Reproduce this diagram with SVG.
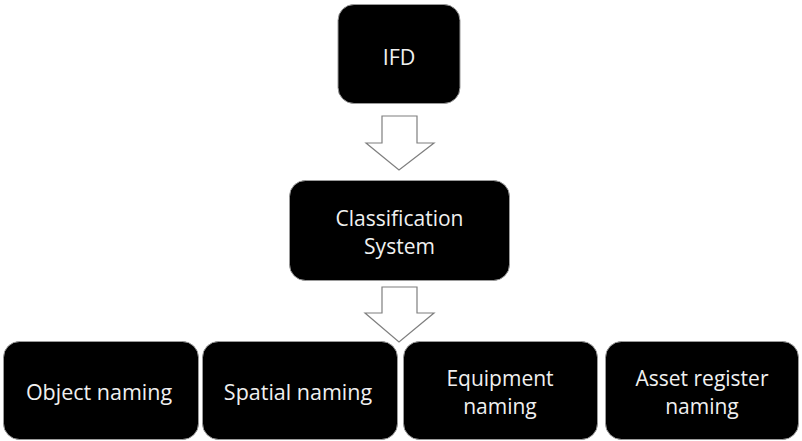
<svg xmlns="http://www.w3.org/2000/svg" width="802" height="441" viewBox="0 0 802 441">
<style>
.box{fill:#000;stroke:#9a9a9a;stroke-width:1}
.lbl{fill:#f0f0f0;font-family:"Open Sans","Liberation Sans",sans-serif;font-size:21.5px;text-anchor:middle}
.two{font-size:21px}
.arr{fill:#fff;stroke:#7f7f7f;stroke-width:1.2;stroke-linejoin:miter}
</style>
<rect width="802" height="441" fill="#fff"/>
<g id="ifd">
<rect class="box" x="338" y="4.5" width="122" height="99" rx="16"/>
<text class="lbl" x="399" y="65">IFD</text>
</g>
<g id="classification">
<rect class="box" x="289.5" y="180.5" width="220" height="100" rx="16"/>
<text class="lbl two" x="399.5" y="225.5">Classification</text>
<text class="lbl two" x="399.5" y="254.2">System</text>
</g>
<g id="object-naming">
<rect class="box" x="3.5" y="341.5" width="195" height="98" rx="16"/>
<text class="lbl" x="99" y="400">Object naming</text>
</g>
<g id="spatial-naming">
<rect class="box" x="202.5" y="341.5" width="195" height="98" rx="16"/>
<text class="lbl" x="298" y="400">Spatial naming</text>
</g>
<g id="equipment-naming">
<rect class="box" x="403.5" y="341.5" width="194" height="98" rx="16"/>
<text class="lbl two" x="500" y="385.5">Equipment</text>
<text class="lbl two" x="500" y="414.2">naming</text>
</g>
<g id="asset-register-naming">
<rect class="box" x="605.5" y="341.5" width="193" height="98" rx="16"/>
<text class="lbl two" x="702" y="385.5">Asset register</text>
<text class="lbl two" x="702" y="414.2">naming</text>
</g>
<g id="connectors">
<polygon class="arr" points="382,116 417,116 417,143 434,143 399,170 366,143 382,143"/>
<polygon class="arr" points="382,287 417,287 417,313 434,313 399,342 365,313 382,313"/>
</g>
</svg>
